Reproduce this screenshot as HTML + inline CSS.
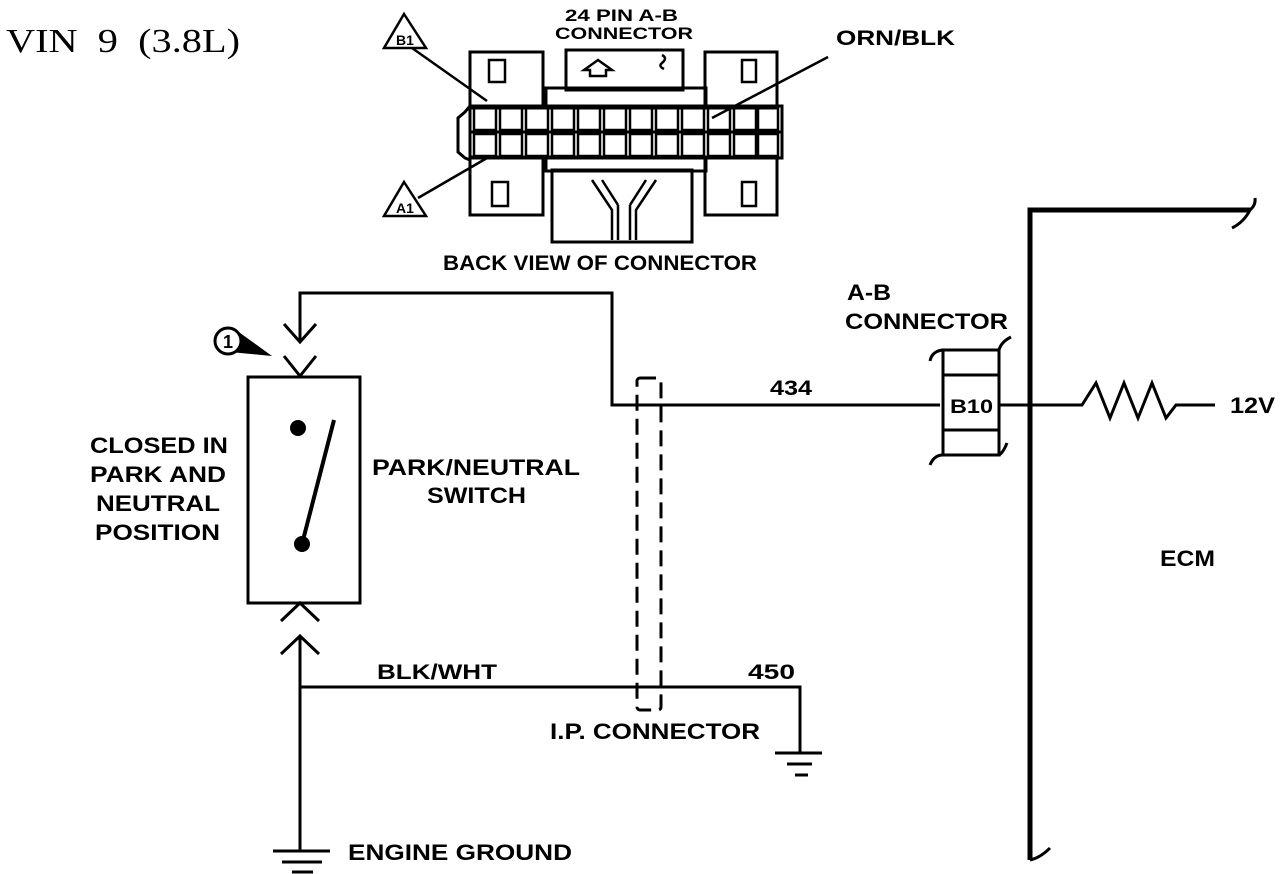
<!DOCTYPE html>
<html><head><meta charset="utf-8"><style>
html,body{margin:0;padding:0;background:#fff;}
svg{display:block;}
.t{font-family:"Liberation Sans",sans-serif;font-weight:bold;fill:#000;}
</style></head><body>
<svg width="1280" height="874" viewBox="0 0 1280 874" xmlns="http://www.w3.org/2000/svg">
<text x="6" y="52" font-family="Liberation Serif,serif" font-size="34" textLength="234" lengthAdjust="spacingAndGlyphs" xml:space="preserve">VIN  9  (3.8L)</text>

<!-- connector picture -->
<g stroke="#000" fill="none" stroke-width="3">
<text class="t" x="565" y="21" font-size="17" textLength="113" lengthAdjust="spacingAndGlyphs" stroke="none">24 PIN A-B</text>
<text class="t" x="555" y="39" font-size="17" textLength="138" lengthAdjust="spacingAndGlyphs" stroke="none">CONNECTOR</text>
<rect x="566" y="50" width="117" height="40"/>
<path d="M584 70 l14 -10 l14 10 l-6 0 l0 6 l-16 0 l0 -6z" stroke-width="2.5"/>
<path d="M662 55 q6 3 0 8 q-4 3 2 6" stroke-width="2.5"/>
<rect x="470" y="52" width="73" height="56"/>
<rect x="489" y="60" width="16" height="22" stroke-width="2.5"/>
<rect x="705" y="52" width="72" height="56"/>
<rect x="742" y="60" width="14" height="22" stroke-width="2.5"/>
<rect x="546" y="88" width="160" height="20"/>
<path d="M470 106 L465 112 L458 118 L458 152 L465 158 L470 160"/>
<rect x="470" y="106" width="312" height="52"/>
<line x1="470" y1="132" x2="782" y2="132"/>
<g stroke-width="2.5">
<path d="M474 108h22v22h-22z M500 108h22v22h-22z M526 108h22v22h-22z M552 108h22v22h-22z M578 108h22v22h-22z M604 108h22v22h-22z M630 108h22v22h-22z M656 108h22v22h-22z M682 108h22v22h-22z M708 108h22v22h-22z M734 108h22v22h-22z M758 108h20v22h-20z"/>
<path d="M474 134h22v22h-22z M500 134h22v22h-22z M526 134h22v22h-22z M552 134h22v22h-22z M578 134h22v22h-22z M604 134h22v22h-22z M630 134h22v22h-22z M656 134h22v22h-22z M682 134h22v22h-22z M708 134h22v22h-22z M734 134h22v22h-22z M758 134h20v22h-20z"/>
</g>
<rect x="470" y="157" width="73" height="58"/>
<rect x="492" y="182" width="16" height="24" stroke-width="2.5"/>
<rect x="705" y="157" width="72" height="58"/>
<rect x="742" y="182" width="14" height="24" stroke-width="2.5"/>
<rect x="546" y="157" width="160" height="14"/>
<rect x="552" y="170" width="140" height="72"/>
<path d="M592 180 L612 210 L612 240 M656 180 L636 210 L636 240 M602 180 L618 205 M646 180 L630 205 M618 205 L618 240 M630 205 L630 240" stroke-width="2.5"/>
<path d="M404 14 L384 48 L426 48 Z" stroke-width="2.5"/>
<text class="t" x="405" y="45" font-size="14" text-anchor="middle" stroke="none">B1</text>
<line x1="412" y1="48" x2="487" y2="101" stroke-width="2.5"/>
<path d="M404 182 L384 216 L426 216 Z" stroke-width="2.5"/>
<text class="t" x="405" y="213" font-size="14" text-anchor="middle" stroke="none">A1</text>
<line x1="418" y1="198" x2="487" y2="158" stroke-width="2.5"/>
<line x1="828" y1="57" x2="712" y2="118" stroke-width="2.5"/>
</g>
<text class="t" x="836" y="45" font-size="21" textLength="119" lengthAdjust="spacingAndGlyphs">ORN/BLK</text>
<text class="t" x="443" y="270" font-size="21" textLength="314" lengthAdjust="spacingAndGlyphs">BACK VIEW OF CONNECTOR</text>

<!-- circuit -->
<g stroke="#000" fill="none" stroke-width="3">
<path d="M300 340 L300 293 L612 293 L612 405 L940 405"/>
<path d="M284 324 L300 342 L316 324"/>
<path d="M284 356 L300 376 L316 356"/>
<rect x="248" y="377" width="112" height="226"/>
<line x1="334" y1="420" x2="302" y2="544" stroke-width="4"/>
<path d="M281 621 L300 603 L319 621"/>
<path d="M281 654 L300 636 L319 654"/>
<path d="M300 636 L300 852"/>
<path d="M300 687 L800 687 L800 752"/>
<path d="M775 753 H822 M787 764 H812 M795 775 H808" stroke-width="3"/>
<path d="M273 851 H330 M282 862 H322 M292 872 H313" stroke-width="3"/>
<rect x="637" y="378" width="24" height="332" rx="3" stroke-dasharray="16 8"/>
<path d="M1030 860 L1030 210 L1250 210" stroke-width="5"/>
<path d="M1250 210 q6 -5 5 -12 M1250 210 q-6 12 -18 18" stroke-width="3"/>
<path d="M1030 860 q10 -2 20 -12" stroke-width="3"/>
<rect x="943" y="350" width="56" height="105"/>
<path d="M943 375 H999 M943 430 H999"/>
<path d="M930 361 q2 -10 13 -11 M999 350 q2 -8 12 -13 M930 465 q4 -10 13 -10 M999 455 q4 -2 8 -12"/>
<path d="M999 405 L1082 405 L1096 383 L1110 418 L1124 383 L1138 418 L1152 383 L1166 418 L1176 405 L1215 405"/>
</g>
<circle cx="1030" cy="405" r="3"/>
<circle cx="298" cy="428" r="8"/>
<circle cx="302" cy="544" r="8"/>
<path d="M236 330 L272 356 L230 352 Z"/>
<circle cx="228" cy="341" r="13" fill="#fff" stroke="#000" stroke-width="3"/>
<text class="t" x="228" y="348" font-size="18" text-anchor="middle">1</text>

<text class="t" x="90" y="453" font-size="22" textLength="138" lengthAdjust="spacingAndGlyphs">CLOSED IN</text>
<text class="t" x="90" y="482" font-size="22" textLength="136" lengthAdjust="spacingAndGlyphs">PARK AND</text>
<text class="t" x="96" y="511" font-size="22" textLength="124" lengthAdjust="spacingAndGlyphs">NEUTRAL</text>
<text class="t" x="95" y="540" font-size="22" textLength="125" lengthAdjust="spacingAndGlyphs">POSITION</text>
<text class="t" x="372" y="475" font-size="22" textLength="208" lengthAdjust="spacingAndGlyphs">PARK/NEUTRAL</text>
<text class="t" x="427" y="503" font-size="22" textLength="99" lengthAdjust="spacingAndGlyphs">SWITCH</text>
<text class="t" x="377" y="679" font-size="21" textLength="120" lengthAdjust="spacingAndGlyphs">BLK/WHT</text>
<text class="t" x="748" y="679" font-size="21" textLength="47" lengthAdjust="spacingAndGlyphs">450</text>
<text class="t" x="550" y="739" font-size="22" textLength="210" lengthAdjust="spacingAndGlyphs">I.P. CONNECTOR</text>
<text class="t" x="348" y="860" font-size="22" textLength="224" lengthAdjust="spacingAndGlyphs">ENGINE GROUND</text>
<text class="t" x="770" y="395" font-size="21" textLength="42" lengthAdjust="spacingAndGlyphs">434</text>
<text class="t" x="847" y="300" font-size="22" textLength="44" lengthAdjust="spacingAndGlyphs">A-B</text>
<text class="t" x="845" y="329" font-size="22" textLength="163" lengthAdjust="spacingAndGlyphs">CONNECTOR</text>
<text class="t" x="950" y="413" font-size="19" textLength="43" lengthAdjust="spacingAndGlyphs">B10</text>
<text class="t" x="1230" y="413" font-size="22" textLength="45" lengthAdjust="spacingAndGlyphs">12V</text>
<text class="t" x="1160" y="566" font-size="22" textLength="55" lengthAdjust="spacingAndGlyphs">ECM</text>
</svg>
</body></html>
